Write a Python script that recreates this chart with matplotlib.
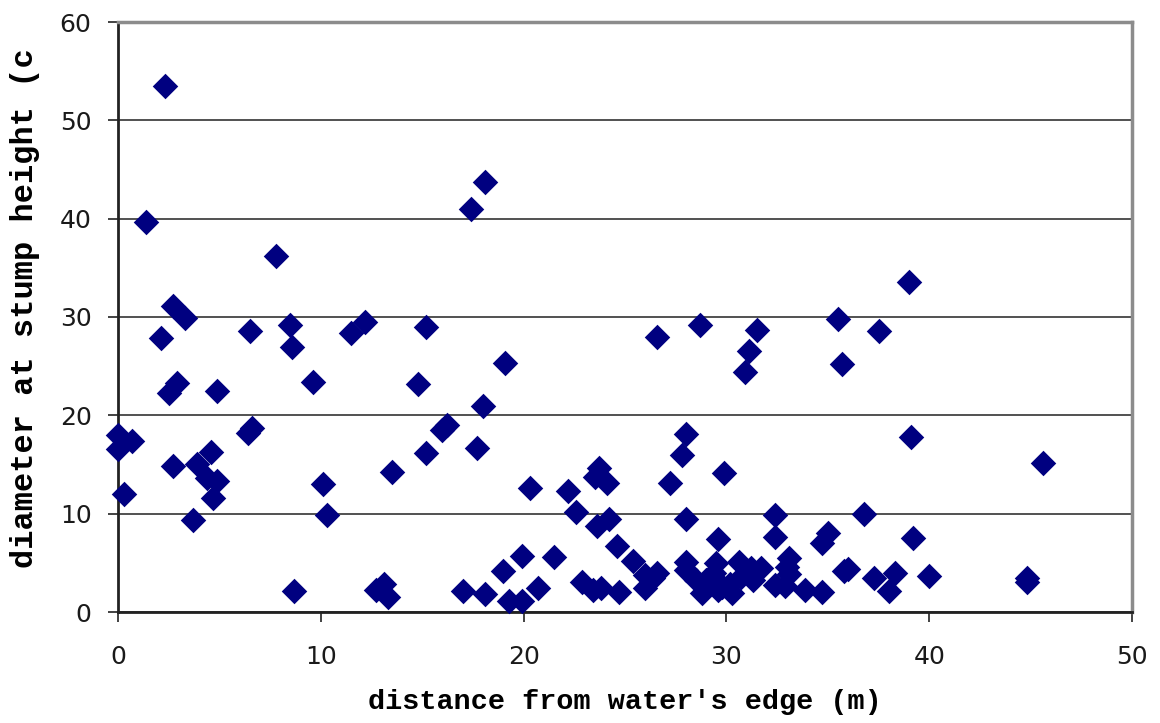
import numpy as np
import matplotlib.pyplot as plt

# stump survey: distance from the water's edge (m) and stump diameter (cm)
distance = [
    2.3, 1.4, 7.8, 17.4, 18.1, 39.0,
    2.7, 3.3, 2.1, 6.5, 8.5, 8.6, 11.5, 12.2, 15.2, 26.6, 28.7, 31.5,
    31.1, 30.9, 35.5, 35.7, 37.5, 19.1,
    2.9, 2.5, 4.9, 9.6, 14.8, 18.0, 16.2, 16.0, 6.6, 6.4, 0.0, 0.0,
    0.7, 4.6, 3.9, 2.7, 4.4, 4.9, 4.7, 0.3, 3.7, 10.1, 10.3, 13.5,
    15.2, 17.7, 28.0, 27.8, 39.1, 45.6, 29.9, 27.2, 23.7, 23.5, 24.1, 20.3,
    22.2, 22.6, 24.2, 23.6, 28.0, 32.4, 36.8, 32.4, 29.6, 35.0, 34.7, 39.2,
    24.6, 25.4,
    8.7, 12.7, 13.1, 13.3, 17.0, 18.1, 19.0, 19.9, 21.5, 19.3, 19.9, 20.7,
    22.9, 23.4, 23.8, 24.7, 26.0, 26.0, 26.6, 26.4, 28.0, 28.0, 28.5, 28.8,
    29.5, 29.5, 29.6, 29.4, 30.3, 30.6, 30.7, 31.2, 31.7, 31.3, 29.8, 29.0,
    30.2, 33.1, 33.0, 33.1, 32.4, 32.9, 33.9, 34.7, 36.0, 35.8, 37.3, 38.3,
    38.0, 40.0, 44.8, 44.8,
]
diameter = [
    53.5, 39.7, 36.2, 41.0, 43.7, 33.6,
    31.1, 29.9, 27.9, 28.6, 29.2, 27.0, 28.4, 29.5, 29.0, 28.0, 29.2, 28.7,
    26.5, 24.4, 29.8, 25.2, 28.6, 25.3,
    23.3, 22.3, 22.5, 23.4, 23.2, 21.0, 19.0, 18.5, 18.7, 18.2, 18.0, 16.6,
    17.4, 16.3, 15.1, 14.8, 13.6, 13.3, 11.6, 12.0, 9.4, 13.0, 9.9, 14.2,
    16.2, 16.7, 18.1, 16.0, 17.8, 15.2, 14.1, 13.1, 14.6, 13.7, 13.1, 12.6,
    12.3, 10.2, 9.5, 8.7, 9.5, 9.9, 10.0, 7.6, 7.4, 8.0, 7.0, 7.5,
    6.7, 5.2,
    2.1, 2.2, 2.8, 1.5, 2.1, 1.8, 4.2, 5.7, 5.6, 1.1, 1.1, 2.4,
    3.1, 2.2, 2.4, 2.0, 3.8, 2.4, 4.0, 3.5, 5.1, 4.3, 3.3, 1.9,
    5.0, 3.3, 2.2, 4.0, 1.9, 5.1, 3.6, 4.5, 4.5, 3.3, 2.5, 3.3,
    2.8, 5.5, 4.6, 3.9, 2.7, 2.6, 2.2, 2.0, 4.4, 4.2, 3.5, 4.0,
    2.1, 3.7, 3.5, 3.1,
]
xticks = [0, 10, 20, 30, 40, 50]
yticks = [0, 10, 20, 30, 40, 50, 60]

fig = plt.figure(figsize=(11.6, 7.23), dpi=100)
ax = fig.add_axes([118 / 1160, 1 - 612 / 723, 1014 / 1160, 590 / 723])

ax.scatter(distance, diameter, marker='D', s=13 ** 2, color='#000080',
           linewidths=0, zorder=3, clip_on=False)

ax.set_xlim(0, 50)
ax.set_ylim(0, 60)
ax.set_xticks(xticks)
ax.set_yticks(yticks)
ax.yaxis.grid(True, color='#333333', linewidth=1.2)
ax.set_axisbelow(True)

for side in ['left', 'bottom']:
    ax.spines[side].set_color('#222222')
    ax.spines[side].set_linewidth(2)
for side in ['top', 'right']:
    ax.spines[side].set_color('#8c8c8c')
    ax.spines[side].set_linewidth(2.5)

ax.tick_params(axis='both', direction='out', length=7, width=1.2,
               color='#222222', labelsize=18, labelcolor='#1a1a1a')
ax.tick_params(axis='x', pad=17)
ax.tick_params(axis='y', pad=12)

ax.set_xlabel("distance from water's edge (m)", family='Liberation Mono',
              fontweight='bold', fontsize=20.5, labelpad=14)

# y title is cut short at the top edge of the chart
fig.text(25 / 1160, 1 - 568 / 723, 'diameter at stump height (c',
         family='Liberation Mono', fontweight='bold', fontsize=23,
         rotation=90, ha='center', va='bottom')

fig.savefig('out.png', dpi=100)
